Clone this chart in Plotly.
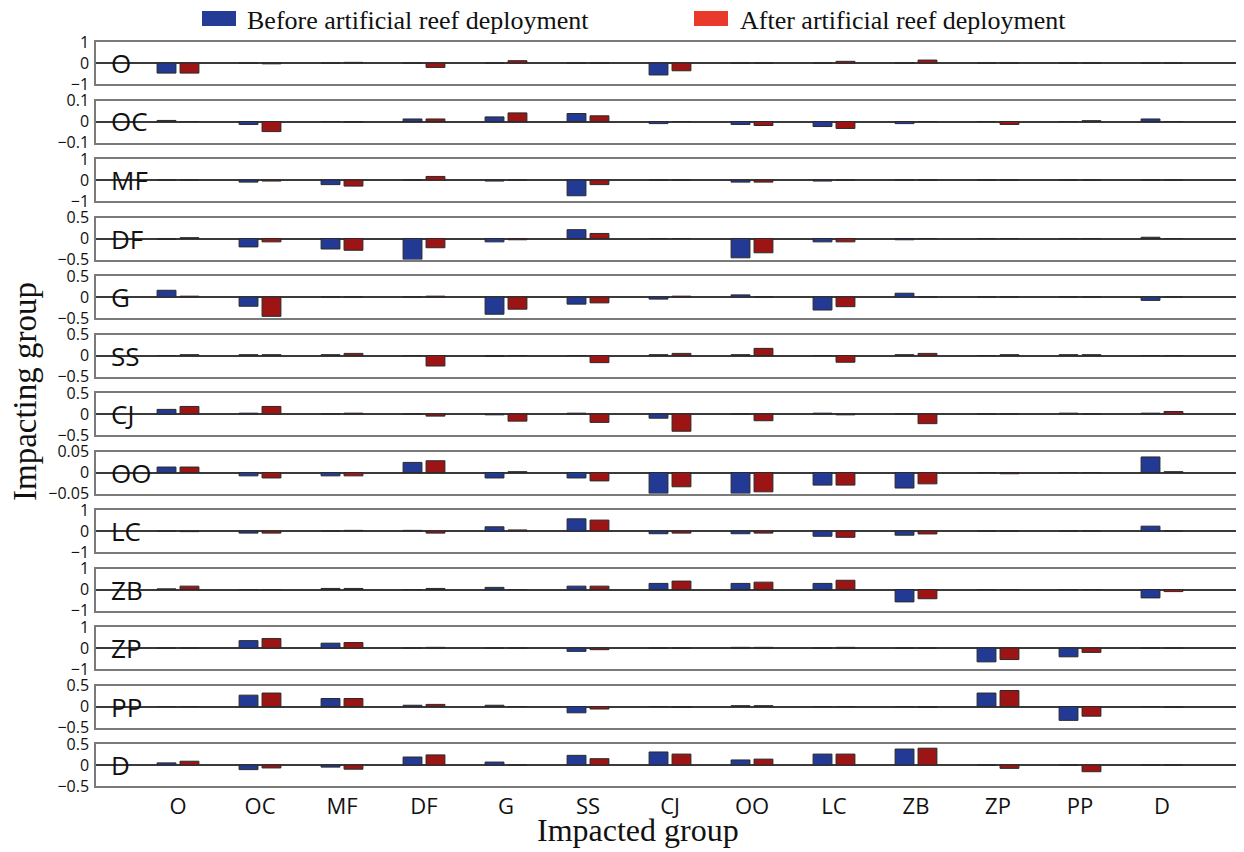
import plotly.graph_objects as go
from plotly.subplots import make_subplots

groups = ["O", "OC", "MF", "DF", "G", "SS", "CJ", "OO", "LC", "ZB", "ZP", "PP", "D"]

# y-axis half ranges per impacting group
ranges = [1, 0.1, 1, 0.5, 0.5, 0.5, 0.5, 0.05, 1, 1, 1, 0.5, 0.5]
tick_text = {1: ("−1", "0", "1"), 0.5: ("−0.5", "0", "0.5"), 0.1: ("−0.1", "0", "0.1"), 0.05: ("−0.05", "0", "0.05")}

before = {
    "O":  [-0.48, 0, 0, 0, 0, 0, -0.57, 0, 0, 0, 0, 0, 0],
    "OC": [0.005, -0.014, 0, 0.012, 0.022, 0.038, -0.01, -0.014, -0.024, -0.01, 0, 0, 0.012],
    "MF": [0, -0.1, -0.22, 0, -0.05, -0.75, 0, -0.1, -0.05, 0, 0, 0, 0],
    "DF": [-0.02, -0.2, -0.25, -0.5, -0.08, 0.21, 0, -0.46, -0.08, -0.03, 0, 0, 0.03],
    "G":  [0.16, -0.22, 0, 0, -0.41, -0.17, -0.05, 0.05, -0.31, 0.09, 0, 0, -0.08],
    "SS": [0, 0.02, 0.02, 0, -0.02, 0, 0.02, 0.02, 0, 0.02, 0, 0.02, 0],
    "CJ": [0.11, 0.02, 0, 0, -0.02, 0.02, -0.1, 0, 0.02, 0, 0, 0.02, 0.02],
    "OO": [0.013, -0.008, -0.008, 0.024, -0.013, -0.013, -0.05, -0.05, -0.03, -0.037, 0, 0, 0.037],
    "LC": [0, -0.1, 0, 0.03, 0.2, 0.58, -0.13, -0.13, -0.25, -0.2, 0, 0, 0.23],
    "ZB": [0.03, 0, 0.05, 0, 0.1, 0.16, 0.29, 0.29, 0.29, -0.59, 0, 0, -0.4],
    "ZP": [0, 0.35, 0.23, 0, 0, -0.16, 0, 0.03, 0, 0, -0.66, -0.42, 0],
    "PP": [0, 0.27, 0.19, 0.03, 0.03, -0.15, 0, 0.02, 0, 0, 0.32, -0.33, 0],
    "D":  [0.05, -0.11, -0.05, 0.19, 0.07, 0.23, 0.31, 0.12, 0.26, 0.38, 0, 0, 0],
}

after = {
    "O":  [-0.48, -0.04, 0.03, -0.21, 0.11, 0, -0.37, 0, 0.08, 0.14, 0, 0, 0],
    "OC": [0, -0.048, -0.003, 0.012, 0.041, 0.027, 0, -0.019, -0.033, 0, -0.014, 0.004, 0],
    "MF": [0, -0.05, -0.29, 0.17, 0, -0.22, 0, -0.1, 0, 0, 0, 0, 0],
    "DF": [0.02, -0.08, -0.28, -0.22, -0.03, 0.12, 0, -0.34, -0.08, 0, 0, 0, 0],
    "G":  [0.02, -0.46, 0, 0.02, -0.29, -0.14, 0.02, 0, -0.23, 0, 0, 0, 0],
    "SS": [0.02, 0.02, 0.05, -0.25, 0, -0.17, 0.05, 0.17, -0.16, 0.05, 0.02, 0.02, 0],
    "CJ": [0.18, 0.18, 0.02, -0.05, -0.17, -0.2, -0.41, -0.16, -0.02, -0.23, 0, 0, 0.06],
    "OO": [0.013, -0.013, -0.008, 0.028, 0.002, -0.02, -0.034, -0.046, -0.03, -0.027, -0.003, 0, 0.002],
    "LC": [-0.03, -0.1, 0.03, -0.1, 0.05, 0.52, -0.1, -0.1, -0.3, -0.14, 0, 0, 0],
    "ZB": [0.16, 0, 0.05, 0.05, 0, 0.16, 0.4, 0.35, 0.44, -0.44, 0, 0, -0.1],
    "ZP": [0, 0.45, 0.26, 0.03, 0, -0.08, 0, 0.03, 0.03, 0, -0.55, -0.21, 0],
    "PP": [0, 0.32, 0.19, 0.05, 0, -0.06, -0.02, 0.02, 0, -0.02, 0.38, -0.23, -0.02],
    "D":  [0.09, -0.07, -0.1, 0.24, 0, 0.15, 0.26, 0.14, 0.26, 0.4, -0.08, -0.16, 0],
}

BLUE = "#233a94"
RED = "#9c1414"
LEG_BLUE = "#243c96"
LEG_RED = "#e8392a"
SANS = "Open Sans, Roboto, sans-serif"
SERIF = "Liberation Serif, Times New Roman, serif"

# page body has an 8px margin; the figure is sized so the plot lands where the reference has it
OFF = 8
W, H = 1236, 844
L, R, T, B = 88, 0, 34, 66
PW, PH = W - L - R, H - T - B

n = len(groups)
fig = make_subplots(rows=n, cols=1, shared_xaxes=True, vertical_spacing=16.5 / PH)

for i, g in enumerate(groups):
    row = i + 1
    fig.add_trace(go.Bar(x=groups, y=before[g], width=0.23, offset=-0.255,
                         marker=dict(color=BLUE, line=dict(color="#2a2a2a", width=1)),
                         showlegend=False, name="Before artificial reef deployment"), row=row, col=1)
    fig.add_trace(go.Bar(x=groups, y=after[g], width=0.23, offset=0.025,
                         marker=dict(color=RED, line=dict(color="#2a2a2a", width=1)),
                         showlegend=False, name="After artificial reef deployment"), row=row, col=1)
    r = ranges[i]
    tt = tick_text[r]
    fig.update_yaxes(range=[-r, r], tickvals=[-r, 0, r], ticktext=list(tt),
                     showgrid=False, zeroline=True, zerolinecolor="#3a3a3a", zerolinewidth=1.5,
                     showline=True, mirror=True, linecolor="#7a7a7a", linewidth=1.5,
                     ticks="", ticklabelstandoff=2,
                     tickfont=dict(family=SANS, size=16, color="#111"),
                     row=row, col=1)
    fig.update_xaxes(type="category", categoryorder="array", categoryarray=groups,
                     range=[-1, n], showgrid=False, showline=True, mirror=True,
                     linecolor="#7a7a7a", linewidth=1.5, ticks="",
                     showticklabels=(row == n), ticklabelstandoff=0,
                     tickfont=dict(family=SANS, size=22, color="#111"),
                     row=row, col=1)
    yref = "y" if row == 1 else f"y{row}"
    fig.add_annotation(text=g, xref="paper", x=(109 - OFF - L) / PW, xanchor="left",
                       yref=yref, y=0, yanchor="middle", showarrow=False,
                       font=dict(family=SANS, size=26, color="#111"))


def px_x(p):
    return (p - OFF - L) / PW


def px_y(p):
    return (H - B - (p - OFF)) / PH


# legend drawn manually
fig.add_shape(type="rect", xref="paper", yref="paper", x0=px_x(202), x1=px_x(236),
              y0=px_y(26), y1=px_y(11), fillcolor=LEG_BLUE, line=dict(width=0))
fig.add_shape(type="rect", xref="paper", yref="paper", x0=px_x(694), x1=px_x(728),
              y0=px_y(26), y1=px_y(11), fillcolor=LEG_RED, line=dict(width=0))
fig.add_annotation(text="Before artificial reef deployment", xref="paper", yref="paper",
                   x=px_x(246), y=px_y(20), xanchor="left", yanchor="middle", showarrow=False,
                   borderpad=0, font=dict(family=SERIF, size=26, color="#111"))
fig.add_annotation(text="After artificial reef deployment", xref="paper", yref="paper",
                   x=px_x(739), y=px_y(20), xanchor="left", yanchor="middle", showarrow=False,
                   borderpad=0, font=dict(family=SERIF, size=26, color="#111"))

# axis titles
fig.add_annotation(text="Impacting group", xref="paper", yref="paper",
                   x=px_x(25), y=px_y(392), xanchor="center", yanchor="middle",
                   textangle=-90, showarrow=False, borderpad=0,
                   font=dict(family=SERIF, size=33, color="#111"))
fig.add_annotation(text="Impacted group", xref="paper", yref="paper",
                   x=px_x(638), y=px_y(830), xanchor="center", yanchor="middle",
                   showarrow=False, borderpad=0, font=dict(family=SERIF, size=32, color="#111"))

fig.update_layout(width=W, height=H, margin=dict(l=L, r=R, t=T, b=B, autoexpand=False),
                  barmode="overlay", plot_bgcolor="white", paper_bgcolor="white",
                  showlegend=False)

fig.write_html("out.html")
